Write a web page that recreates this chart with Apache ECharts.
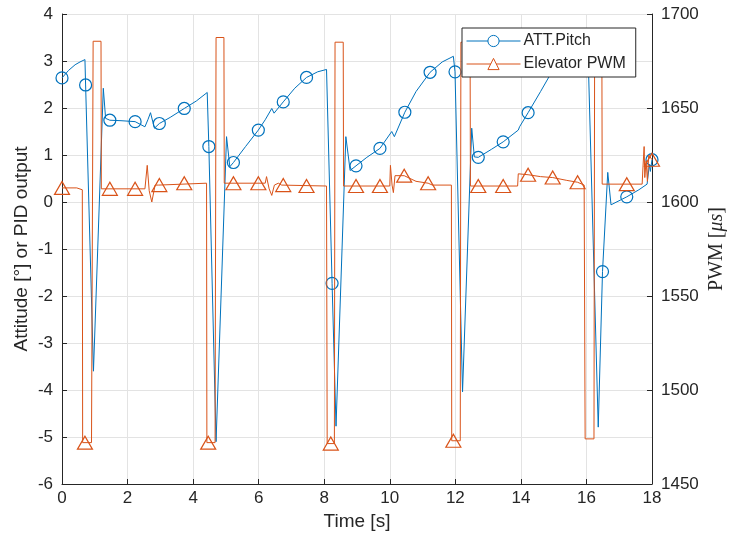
<!DOCTYPE html>
<html>
<head>
<meta charset="utf-8">
<script src="https://cdn.jsdelivr.net/npm/echarts@6/dist/echarts.min.js"></script>
<style>
html,body{margin:0;padding:0;background:#fff;}
#chart{width:729px;height:546px;}
</style>
</head>
<body>
<div id="chart"></div>
<script>
// ---- Data ----
// ATT.Pitch line (time [s], attitude [deg]) - left axis
var pitchLine = [
  [0, 2.64], [0.2, 2.8], [0.4, 2.92], [0.55, 2.98], [0.70, 3.03],
  [0.72, 2.49], [0.96, -3.6], [1.26, 2.42], [1.33, 1.78], [1.46, 1.74],
  [1.8, 1.73], [2.23, 1.71], [2.53, 1.6], [2.62, 1.75], [2.70, 1.9],
  [2.82, 1.57], [2.97, 1.67], [3.3, 1.8], [3.73, 1.99], [4.1, 2.15],
  [4.43, 2.33], [4.48, 1.18], [4.70, -5.1], [5.02, 1.39], [5.12, 0.75],
  [5.23, 0.84], [5.6, 1.18], [5.99, 1.53], [6.2, 1.75], [6.40, 1.99],
  [6.47, 1.89], [6.75, 2.13], [7.1, 2.42], [7.46, 2.65], [7.8, 2.77],
  [8.07, 2.82], [8.24, -1.73], [8.36, -4.77], [8.66, 1.39], [8.79, 0.67],
  [8.97, 0.77], [9.3, 0.95], [9.70, 1.14], [10.06, 1.5], [10.14, 1.39],
  [10.46, 1.91], [10.8, 2.35], [11.23, 2.76], [11.6, 2.98], [11.94, 3.1],
  [11.99, 2.77], [12.22, -4.04], [12.50, 1.57], [12.58, 0.96], [12.70, 0.95],
  [13.1, 1.12], [13.46, 1.28], [13.92, 1.53], [13.96, 1.6], [13.99, 1.56],
  [14.22, 1.9], [14.6, 2.35], [14.97, 2.8], [15.4, 3.0], [15.73, 3.1],
  [16.05, 3.15], [16.36, -4.79], [16.49, -1.48], [16.65, 0.63], [16.75, -0.06],
  [17.23, 0.11], [17.6, 0.26], [17.85, 0.38], [17.92, 0.8], [17.95, 0.65],
  [18.0, 0.9]
];
// ATT.Pitch marker points
var pitchMarkers = [
  [0, 2.64], [0.72, 2.49], [1.46, 1.74], [2.23, 1.71], [2.97, 1.67],
  [3.73, 1.99], [4.48, 1.18], [5.23, 0.84], [5.99, 1.53], [6.75, 2.13],
  [7.46, 2.65], [8.24, -1.73], [8.97, 0.77], [9.70, 1.14], [10.46, 1.91],
  [11.23, 2.76], [11.99, 2.77], [12.70, 0.95], [13.46, 1.28], [14.22, 1.9],
  [14.97, 2.8], [15.73, 3.1], [16.49, -1.48], [17.23, 0.11], [18.0, 0.9]
];
// Elevator PWM line (time [s], PWM [us]) - right axis
var pwmLine = [
  [0, 1607.5], [0.45, 1607.5], [0.46, 1606.5], [0.62, 1606.5], [0.63, 1472],
  [0.90, 1472], [0.95, 1685.5], [1.19, 1685.5], [1.20, 1607], [2.53, 1607],
  [2.60, 1619.5], [2.66, 1606], [2.74, 1600], [2.84, 1609], [2.95, 1609],
  [3.0, 1610], [4.41, 1610], [4.42, 1472], [4.67, 1472], [4.70, 1687.5],
  [4.94, 1687.5], [4.95, 1610], [6.20, 1610], [6.24, 1613.5], [6.32, 1607],
  [6.40, 1603.5], [6.48, 1609], [6.60, 1610], [6.70, 1609], [8.07, 1608.5],
  [8.09, 1471.5], [8.31, 1471.5], [8.33, 1685], [8.58, 1685], [8.59, 1608.5],
  [10.0, 1608.5], [10.02, 1619.5], [10.07, 1609], [10.11, 1605], [10.16, 1614],
  [10.2, 1615], [10.44, 1614], [10.8, 1611], [11.17, 1610], [11.3, 1609],
  [11.88, 1609], [11.89, 1473], [12.15, 1473], [12.17, 1685], [12.45, 1685],
  [12.46, 1608.5], [13.90, 1608.5], [13.92, 1615], [14.22, 1614.5], [14.60, 1613.5],
  [14.97, 1613], [15.40, 1611.5], [15.73, 1610.5], [15.93, 1609], [15.96, 1474],
  [16.23, 1474], [16.25, 1685], [16.47, 1685], [16.48, 1609.5], [17.70, 1609.5],
  [17.72, 1617], [17.76, 1629.5], [17.78, 1613], [17.82, 1622], [17.86, 1611],
  [17.90, 1625], [18.0, 1622.5]
];
// Elevator PWM marker points
var pwmMarkers = [
  [0, 1607.5], [0.70, 1472], [1.46, 1607], [2.23, 1607], [2.97, 1609],
  [3.73, 1610], [4.46, 1472], [5.23, 1610], [5.99, 1610], [6.75, 1609],
  [7.46, 1608.5], [8.20, 1471.5], [8.97, 1608.5], [9.70, 1608.5], [10.44, 1614],
  [11.17, 1610], [11.94, 1473], [12.70, 1608.5], [13.46, 1608.5], [14.22, 1614.5],
  [14.97, 1613], [15.73, 1610.5], [16.49, 1685], [17.23, 1609.5], [18.0, 1622.5]
];
var xTicks = {min: 0, max: 18, interval: 2};
var leftTicks = {min: -6, max: 4, interval: 1};
var rightTicks = {min: 1450, max: 1700, interval: 50};

var BLUE = '#0072BD', ORANGE = '#D95319', AX = '#262626', GRID = '#e3e3e3';
var FONT = '"Liberation Sans", Arial, Helvetica, sans-serif';
var SERIF = '"Liberation Serif", "DejaVu Serif", serif';

var chart = echarts.init(document.getElementById('chart'), null, {renderer: 'canvas'});
chart.setOption({
  animation: false,
  backgroundColor: '#fff',
  textStyle: {fontFamily: FONT},
  grid: {left: 62, right: 77, top: 14, bottom: 62, containLabel: false, outerBoundsMode: 'none'},
  legend: {
    data: ['ATT.Pitch', 'Elevator PWM'],
    orient: 'vertical',
    left: 462, top: 28,
    itemWidth: 54, itemHeight: 14, itemGap: 5,
    padding: [4, 10, 4, 4],
    backgroundColor: '#fff',
    borderColor: AX, borderWidth: 1, borderRadius: 0,
    itemStyle: {borderWidth: 1},
    lineStyle: {width: 1},
    textStyle: {fontFamily: FONT, fontSize: 16, color: AX, lineHeight: 18, padding: [0, 0, 0, -2]},
    z: 10
  },
  xAxis: {
    type: 'value', min: xTicks.min, max: xTicks.max, interval: xTicks.interval,
    name: 'Time [s]', nameLocation: 'middle', nameGap: 28, nameMoveOverlap: false,
    nameTextStyle: {fontFamily: FONT, fontSize: 19, color: AX},
    axisLine: {show: true, onZero: false, lineStyle: {color: AX, width: 1}},
    axisTick: {show: true, inside: true, length: 5, lineStyle: {color: AX}},
    axisLabel: {fontFamily: FONT, fontSize: 17, color: AX, margin: 6},
    splitLine: {show: true, lineStyle: {color: GRID, width: 1}}
  },
  yAxis: [{
    type: 'value', min: leftTicks.min, max: leftTicks.max, interval: leftTicks.interval,
    position: 'left',
    name: 'Attitude [°] or PID output', nameLocation: 'middle', nameGap: 31, nameMoveOverlap: false,
    nameTextStyle: {fontFamily: FONT, fontSize: 19, color: AX},
    axisLine: {show: true, onZero: false, lineStyle: {color: AX, width: 1}},
    axisTick: {show: true, inside: true, length: 5, lineStyle: {color: AX}},
    axisLabel: {fontFamily: FONT, fontSize: 17, color: AX, margin: 9},
    splitLine: {show: true, lineStyle: {color: GRID, width: 1}}
  }, {
    type: 'value', min: rightTicks.min, max: rightTicks.max, interval: rightTicks.interval,
    position: 'right',
    name: '{n|PWM [}{i|μs}{n|]}', nameLocation: 'middle', nameGap: 55, nameRotate: 90,
    nameMoveOverlap: false,
    nameTextStyle: {
      color: AX, fontSize: 20,
      rich: {
        n: {fontFamily: SERIF, fontSize: 20, color: AX},
        i: {fontFamily: SERIF, fontSize: 20, fontStyle: 'italic', color: AX}
      }
    },
    axisLine: {show: true, onZero: false, lineStyle: {color: AX, width: 1}},
    axisTick: {show: true, inside: true, length: 5, lineStyle: {color: AX}},
    axisLabel: {fontFamily: FONT, fontSize: 17, color: AX, margin: 9,
      formatter: function (v) { return String(v); }},
    splitLine: {show: false}
  }],
  series: [{
    name: 'ATT.Pitch', type: 'line', yAxisIndex: 0, data: pitchLine,
    showSymbol: false, symbol: 'circle', symbolSize: 12,
    lineStyle: {color: BLUE, width: 1},
    itemStyle: {color: '#fff', borderColor: BLUE, borderWidth: 1},
    z: 2
  }, {
    name: 'ATT.Pitch', type: 'scatter', yAxisIndex: 0, data: pitchMarkers,
    symbol: 'circle', symbolSize: 12,
    itemStyle: {color: 'rgba(255,255,255,0)', borderColor: BLUE, borderWidth: 1.2, opacity: 1},
    z: 2
  }, {
    name: 'Elevator PWM', type: 'line', yAxisIndex: 1, data: pwmLine,
    showSymbol: false, symbol: 'triangle', symbolSize: [14, 12],
    lineStyle: {color: ORANGE, width: 1},
    itemStyle: {color: '#fff', borderColor: ORANGE, borderWidth: 1},
    z: 3
  }, {
    name: 'Elevator PWM', type: 'scatter', yAxisIndex: 1, data: pwmMarkers,
    symbol: 'triangle', symbolSize: [15, 13],
    itemStyle: {color: 'rgba(255,255,255,0)', borderColor: ORANGE, borderWidth: 1.2, opacity: 1},
    z: 3
  }]
});
</script>
</body>
</html>
